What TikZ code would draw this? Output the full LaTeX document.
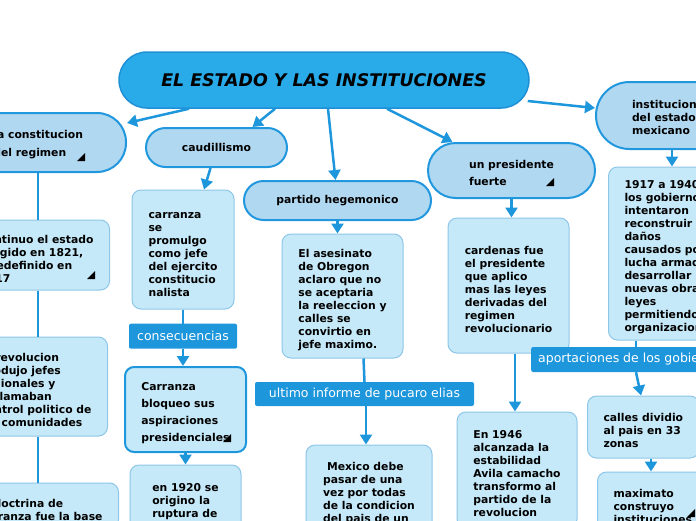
\documentclass[tikz,border=0pt]{standalone}
\usepackage{fontspec}
\setmainfont{DejaVu Sans}
\usetikzlibrary{arrows.meta,positioning}

\definecolor{titlefill}{HTML}{29ABE9}
\definecolor{titledraw}{HTML}{1F90D6}
\definecolor{topicfill}{HTML}{B1D8F1}
\definecolor{topicdraw}{HTML}{2197DE}
\definecolor{leaffill}{HTML}{C5E9F8}
\definecolor{leafdraw}{HTML}{8DC6E9}
\definecolor{linec}{HTML}{1E96DC}

% espacio extra sobre la primera linea de texto
\newcommand{\topgap}{\rule{0pt}{16pt}}

\tikzstyle{title} = [rectangle, draw=titledraw, fill=titlefill, line width=1.5pt,
    rounded corners=28pt, minimum width=410pt, minimum height=56pt,
    font=\fontsize{17.4}{20}\selectfont\bfseries\itshape]
\tikzstyle{topic} = [rectangle, draw=topicdraw, fill=topicfill, line width=2pt,
    align=left, font=\fontsize{10.8}{13}\selectfont\bfseries]
\tikzstyle{leaf} = [rectangle, draw=leafdraw, fill=leaffill, line width=1pt,
    rounded corners=9pt, inner xsep=16pt, align=left,
    font=\fontsize{10.8}{13}\selectfont\bfseries]
\tikzstyle{rel} = [rectangle, fill=linec, text=white, rounded corners=2pt,
    inner xsep=8pt, minimum height=25pt, font=\fontsize{12.5}{15}\selectfont]
\tikzstyle{conn} = [draw=linec, line width=2.5pt, -{Triangle[width=12pt,length=10pt]}]
\tikzstyle{link} = [draw=linec, line width=2.5pt]

\begin{document}
\begin{tikzpicture}[x=1pt, y=-1pt]
  \useasboundingbox (0,0) rectangle (696,520);
  \clip (0,0) rectangle (696,520);

  \coordinate (spine) at (38,0);
  \coordinate (rcol) at (672,0);
  \coordinate (rcol2) at (636,0);

  \node[title] (estado) at (324,80) {EL ESTADO Y LAS INSTITUCIONES};

  % primer nivel
  \node[topic, anchor=east, inner xsep=43pt, minimum height=59pt, rounded corners=29pt]
      (constitucion) at (127,142.5) {\rule{0pt}{12pt}la constitucion\\[5pt]del regimen};
  \node[topic, align=center, minimum width=141pt, minimum height=39pt, rounded corners=19.5pt]
      (caudillismo) at (216.5,147.5) {caudillismo};
  \node[topic, align=center, minimum width=187pt, minimum height=39pt, rounded corners=19.5pt]
      (partido) at (337.5,200.5) {partido hegemonico};
  \node[topic, minimum width=167pt, minimum height=55pt, rounded corners=27.5pt]
      (presidente) at (511.5,170.5) {\rule{0pt}{13pt}un presidente\\[4pt]fuerte};
  \node[topic, anchor=west, inner xsep=36pt, minimum height=67pt, rounded corners=33.5pt]
      (instituciones) at (595,115.5) {\rule{0pt}{12pt}instituciones\\del estado\\mexicano};

  % columna izquierda
  \node[leaf, anchor=east, minimum height=70pt] (continuo) at (110,255)
      {\topgap continuo el estado\\surgido en 1821,\\y redefinido en\\1917};
  \node[leaf, anchor=east, minimum height=99pt] (revolucion) at (108,386.5)
      {\topgap la revolucion\\produjo jefes\\regionales y\\reclamaban\\control politico de\\las comunidades};
  \node[leaf, anchor=east, minimum height=46pt] (doctrina) at (119,506)
      {\topgap la doctrina de\\carranza fue la base};

  % caudillismo
  \node[leaf, minimum width=102pt, minimum height=119pt] (carranza) at (183,249.5)
      {\topgap carranza\\se\\promulgo\\como jefe\\del ejercito\\constitucio\\nalista};
  \node[rel, minimum width=108pt] (consecuencias) [below=14pt of carranza] {consecuencias};
  \node[leaf, draw=linec, line width=2pt, minimum width=121pt, minimum height=85pt,
      font=\fontsize{10.8}{17}\selectfont\bfseries] (bloqueo) at (185.5,409.5)
      {\topgap Carranza\\bloqueo sus\\aspiraciones\\presidenciales};
  \node[leaf, minimum width=111pt, minimum height=65pt] (ruptura) at (185.5,497.5)
      {\topgap en 1920 se\\origino la\\ruptura de};

  % partido hegemonico
  \node[leaf, minimum width=121pt, minimum height=124pt] (asesinato) at (342.5,296)
      {\topgap El asesinato\\de Obregon\\aclaro que no\\se aceptaria\\la reeleccion y\\calles se\\convirtio en\\jefe maximo.};
  \node[rel, minimum width=219pt, minimum height=24pt] (ultimo) at (364.5,394)
      {ultimo informe de pucaro elias};
  \node[leaf, minimum width=126pt, minimum height=90pt] (mexico) at (369,490)
      {\topgap\hspace*{4pt}Mexico debe\\pasar de una\\vez por todas\\de la condicion\\del pais de un};

  % un presidente fuerte
  \node[leaf, minimum width=121pt, minimum height=135pt] (cardenas) at (508.5,285.5)
      {\topgap cardenas fue\\el presidente\\que aplico\\mas las leyes\\derivadas del\\regimen\\revolucionario};
  \node[leaf, minimum width=120pt, minimum height=116pt] (avila) at (517,470)
      {\topgap En 1946\\alcanzada la\\estabilidad\\Avila camacho\\transformo al\\partido de la\\revolucion};

  % instituciones del estado
  \node[leaf, anchor=west, minimum height=173pt] (gobiernos) at (608,253.5)
      {\topgap 1917 a 1940\\los gobiernos\\intentaron\\reconstruir\\daños\\causados por\\lucha armada\\desarrollar\\nuevas obras\\leyes\\permitiendo\\organizacion};
  \node[rel, anchor=west, inner xsep=7pt] (aportaciones) at (531,359.5)
      {aportaciones de los gobiernos};
  \node[leaf, anchor=west, minimum height=62pt] (calles) at (587,427)
      {\topgap calles dividio\\al pais en 33\\zonas};
  \node[leaf, anchor=west, minimum height=62pt] (maximato) at (597,503)
      {\topgap maximato\\construyo\\instituciones};

  % conectores
  \path ([xshift=-135pt]estado.south) edge[conn] ([yshift=-11pt]constitucion.north east)
    ([xshift=-49pt]estado.south) edge[conn] ([xshift=36pt]caudillismo.north)
    ([xshift=4pt]estado.south) edge[conn] ([xshift=-2pt]partido.north)
    ([xshift=63pt]estado.south) edge[conn] ([xshift=-59pt]presidente.north)
    ([shift={(-2pt,-21pt)}]estado.east) edge[conn] ([yshift=7.5pt]instituciones.west);

  \path (spine |- constitucion.south) edge[link] (spine |- continuo.north)
    (spine |- continuo.south) edge[link] (spine |- revolucion.north)
    (spine |- revolucion.south) edge[link] (spine |- doctrina.north);

  \path ([xshift=-6pt]caudillismo.south) edge[conn] ([xshift=21pt]carranza.north)
    (carranza.south) edge[link] (carranza.south |- consecuencias.north)
    (consecuencias.south) edge[conn] (consecuencias.south |- bloqueo.north)
    (bloqueo.south) edge[conn] (bloqueo.south |- ruptura.north);

  \path (partido.south) edge[conn] (partido.south |- asesinato.north)
    ([xshift=21pt]asesinato.south) edge[link] (ultimo.north)
    ([xshift=1.5pt]ultimo.south) edge[conn] ([xshift=1.5pt]ultimo.south |- mexico.north);

  \path (presidente.south) edge[conn] (presidente.south |- cardenas.north)
    ([xshift=6.5pt]cardenas.south) edge[conn] ([xshift=-2pt]avila.north);

  \path (rcol |- instituciones.south) edge[conn] (rcol |- gobiernos.north)
    (rcol2 |- gobiernos.south) edge[link] (rcol2 |- aportaciones.north)
    (rcol2 |- aportaciones.south) edge[conn] ([xshift=54pt]calles.north west)
    ([xshift=64pt]calles.south west) edge[conn] ([xshift=54pt]maximato.north west);

  % marcas de nodos plegados
  \foreach \mx/\my in {85/161, 95/279, 554/186, 231/442, 695/517}
    \fill (\mx,\my) -- ++(-8,0) -- ++(8,-8) -- cycle;
\end{tikzpicture}
\end{document}
